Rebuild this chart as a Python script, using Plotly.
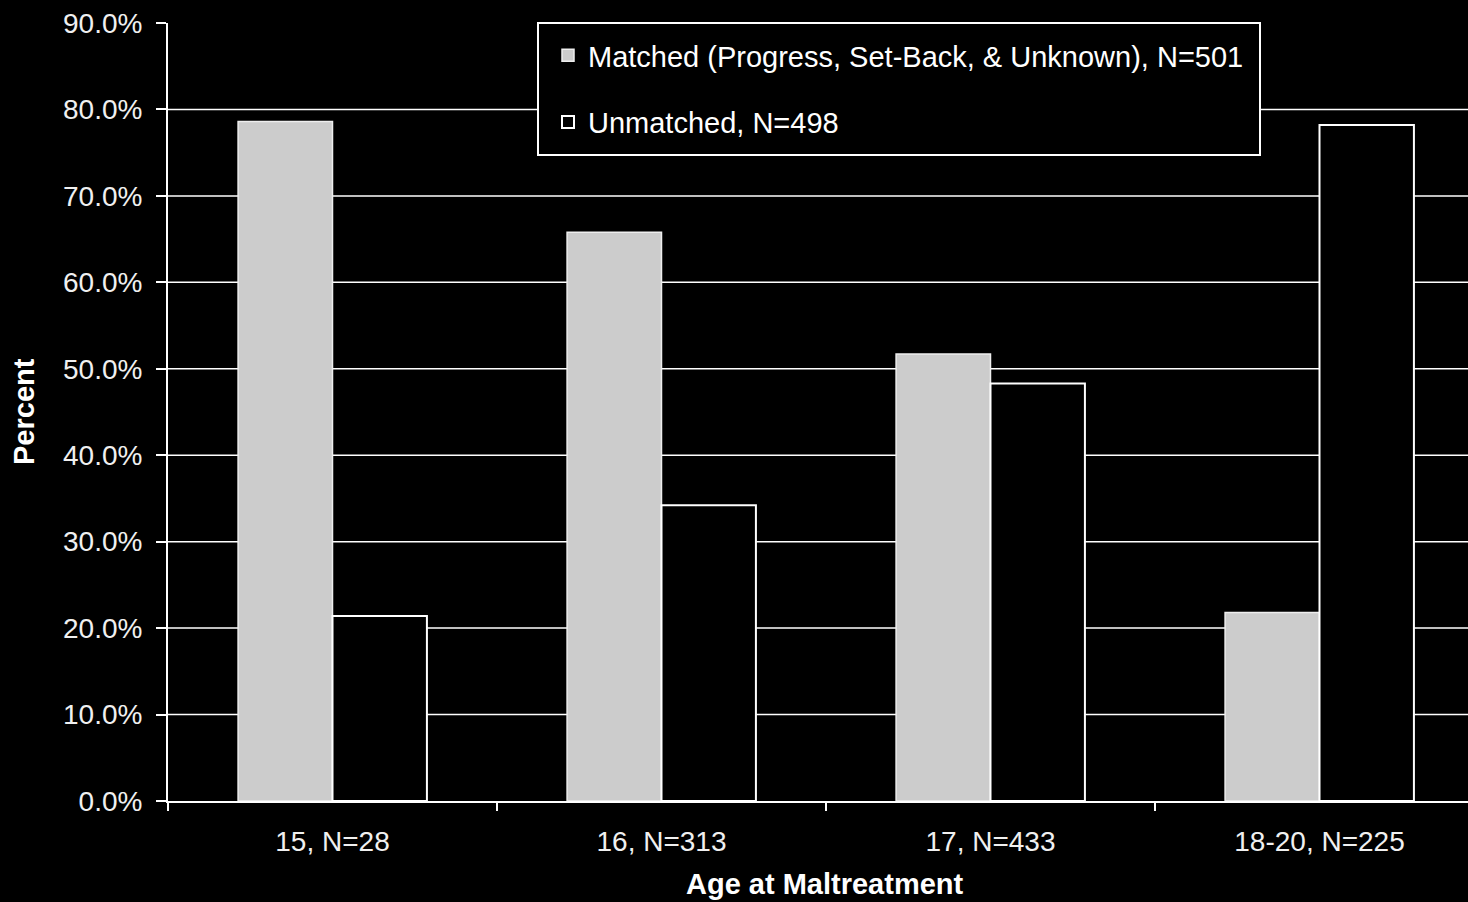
import plotly.graph_objects as go

categories = ["15, N=28", "16, N=313", "17, N=433", "18-20, N=225"]
matched = [78.6, 65.8, 51.7, 21.8]
unmatched = [21.4, 34.2, 48.3, 78.2]
y_ticks = [0, 10, 20, 30, 40, 50, 60, 70, 80, 90]
y_tick_text = ["0.0%", "10.0%", "20.0%", "30.0%", "40.0%", "50.0%", "60.0%", "70.0%", "80.0%", "90.0%"]
grid_vals = [10, 20, 30, 40, 50, 60, 70, 80]

FONT = "Liberation Sans, Arial, sans-serif"

fig = go.Figure()
fig.add_trace(go.Bar(
    x=categories, y=matched, name="Matched (Progress, Set-Back, & Unknown), N=501",
    marker=dict(color="#CCCCCC", line=dict(color="#EEEEEE", width=1.5)),
    legendgroup="a",
))
fig.add_trace(go.Bar(
    x=categories, y=unmatched, name="Unmatched, N=498",
    marker=dict(color="#000000", line=dict(color="#FFFFFF", width=2)),
    legendgroup="b",
))

shapes = [dict(type="line", xref="paper", x0=0, x1=1, yref="y", y0=v, y1=v,
               line=dict(color="#FFFFFF", width=1.5), layer="below") for v in grid_vals]
# legend frame
shapes.append(dict(type="rect", xref="paper", yref="paper",
                   x0=(538 - 168) / 1300, x1=(1260 - 168) / 1300,
                   y0=(801 - 155) / 778, y1=1.0,
                   line=dict(color="#FFFFFF", width=2), fillcolor="#000000", layer="above"))

fig.update_layout(
    width=1468, height=902,
    paper_bgcolor="#000000", plot_bgcolor="#000000",
    margin=dict(l=168, r=0, t=23, b=101),
    barmode="group", bargap=0.426, bargroupgap=0,
    font=dict(family=FONT, color="#FFFFFF", size=28),
    shapes=shapes,
    showlegend=True,
    legend=dict(
        x=(548 - 168) / 1300, y=(801 - 30) / 778, xanchor="left", yanchor="top",
        bgcolor="rgba(0,0,0,0)", borderwidth=0,
        font=dict(family=FONT, size=29, color="#FFFFFF"),
        traceorder="grouped", tracegroupgap=26,
    ),
    xaxis=dict(
        range=[-0.5, 3.5 - 16 / 329], type="category",
        showline=True, linecolor="#FFFFFF", linewidth=2,
        ticks="outside", tickson="boundaries", ticklen=8, tickcolor="#FFFFFF", tickwidth=2,
        showgrid=False, tickfont=dict(size=28, color="#F0F0F0"),
        ticklabelstandoff=14,
        fixedrange=True,
    ),
    yaxis=dict(
        range=[0, 90], tickvals=y_ticks, ticktext=y_tick_text,
        showline=True, linecolor="#FFFFFF", linewidth=2,
        ticks="outside", ticklen=10, tickcolor="#FFFFFF", tickwidth=2,
        showgrid=False, zeroline=False, tickfont=dict(size=28, color="#F0F0F0"),
        ticklabelstandoff=8,
        fixedrange=True,
    ),
    annotations=[
        dict(text="<b>Percent</b>", xref="paper", yref="paper",
             x=(24 - 168) / 1300, y=0.5, xanchor="center", yanchor="middle",
             textangle=-90, showarrow=False,
             font=dict(size=29, color="#FFFFFF", family=FONT)),
        dict(text="<b>Age at Maltreatment</b>", xref="paper", yref="paper",
             x=(825 - 168) / 1300, y=0, yshift=-83, xanchor="center", yanchor="middle",
             showarrow=False,
             font=dict(size=29, color="#FFFFFF", family=FONT)),
    ],
)

fig.write_html("out.html", config=dict(displayModeBar=False))
